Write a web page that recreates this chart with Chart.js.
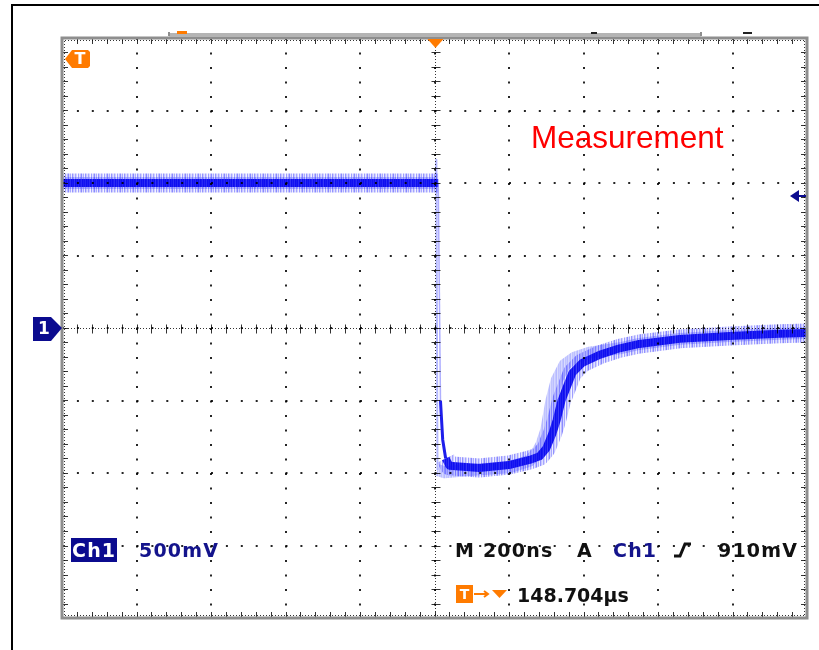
<!DOCTYPE html>
<html>
<head>
<meta charset="utf-8">
<script src="https://cdn.jsdelivr.net/npm/chart.js@4.4.1/dist/chart.umd.min.js"></script>
<style>
  html, body { margin: 0; padding: 0; background: #fff; overflow: hidden; }
  canvas { display: block; }
</style>
</head>
<body>
<canvas id="scope" width="819" height="650"></canvas>
<script>
// Channel 1 trace: time in ns relative to the trigger, amplitude in volts
const timeNs = [-1000, -500, 0, 10, 16, 22, 30, 40, 120, 200, 255, 282, 300, 317, 328, 341, 357, 370, 397, 443, 497, 550, 658, 792, 926, 1000];
const ch1Volts = [1.0, 1.0, 1.0, 1.0, -0.5, -0.77, -0.9, -0.95, -0.965, -0.945, -0.91, -0.885, -0.83, -0.725, -0.635, -0.5, -0.395, -0.31, -0.24, -0.185, -0.14, -0.11, -0.075, -0.055, -0.04, -0.035];

// Earlier acquisitions still shown by display persistence
const persistTimeNs = [-1000, 0, 3, 5, 8, 27, 94, 201, 255, 276, 287, 300, 314, 328, 349, 376, 416, 497, 550, 658, 792, 926, 1000];
const persistVolts = [1.0, 1.0, 1.0, 1.16, -0.98, -0.995, -0.98, -0.96, -0.915, -0.855, -0.805, -0.705, -0.5, -0.36, -0.255, -0.205, -0.17, -0.14, -0.11, -0.075, -0.055, -0.04, -0.035];

// Graticule: 10 x 200 ns, 8 x 500 mV
const timeRangeNs = [-1000, 1000];
const voltRange = [-2, 2];
const timePerDivNs = 200;
const voltPerDiv = 0.5;
const triggerLevelV = 0.91;

// Readout texts
const annotation = 'Measurement';
const channelName = 'Ch1';
const channelScale = '500mV';
const timebase = 'M 200ns';
const triggerSource = 'A';
const triggerLevel = '910mV';
const triggerDelay = '148.704\u00b5s';

const toPoints = (xs, ys) => xs.map((t, i) => ({ x: t, y: ys[i] }));

const ORANGE = '#ff7b00';
const NAVY = '#0b0b8f';

// Vertical-streak texture used to stroke the trace so it reads like a sampled, noisy signal
function streakPattern(rgb, alphas) {
  const cv = document.createElement('canvas');
  cv.width = alphas.length;
  cv.height = 1;
  const g = cv.getContext('2d');
  alphas.forEach((al, i) => {
    g.fillStyle = `rgba(${rgb},${al})`;
    g.fillRect(i, 0, 1, 1);
  });
  return g.createPattern(cv, 'repeat');
}
const coreStroke = streakPattern('14,14,240', [1, 0.82, 1, 0.92, 0.75, 1, 0.88, 0.97, 0.8, 1, 0.9]);
const haloStroke = streakPattern('40,40,255', [0.45, 0.12, 0.32, 0.55, 0.18, 0.4, 0.08, 0.5, 0.26, 0.15, 0.42, 0.22, 0.05]);
const persistStroke = streakPattern('150,155,255', [0.65, 0.4, 0.55, 0.7, 0.35, 0.6, 0.5]);

// thin, light stroke for the very fast edges
function steep(c) {
  const dx = Math.abs(c.p1.x - c.p0.x), dy = Math.abs(c.p1.y - c.p0.y);
  return dy > 15 && dy > 6 * dx;
}
function veryFast(c) {
  const dx = Math.abs(c.p1.x - c.p0.x), dy = Math.abs(c.p1.y - c.p0.y);
  return dy > 30 && dy > 40 * dx;
}

function drawPentagon(c, pts, fill) {
  c.beginPath();
  pts.forEach((p, i) => (i ? c.lineTo(p[0], p[1]) : c.moveTo(p[0], p[1])));
  c.closePath();
  c.fillStyle = fill;
  c.fill();
}

const screenPlugin = {
  id: 'scopeScreen',
  beforeDraw(chart) {
    const c = chart.ctx;
    c.save();
    c.fillStyle = '#fff';
    c.fillRect(0, 0, chart.width, chart.height);
    // outer frame
    c.fillStyle = '#000';
    c.fillRect(11, 4, chart.width - 11, 2);
    c.fillRect(11, 4, 2, chart.height - 4);
    c.restore();
  },
  afterDraw(chart) {
    const c = chart.ctx;
    const a = chart.chartArea;
    const xs = chart.scales.x, ys = chart.scales.y;
    const x0 = Math.round(xs.getPixelForValue(0)) + 0.5;
    const y0 = Math.round(ys.getPixelForValue(0)) + 0.5;
    const minorT = timePerDivNs / 5, minorV = voltPerDiv / 5;
    c.save();

    // centre crosshair, finely dotted
    c.strokeStyle = 'rgba(0,0,0,0.8)';
    c.lineWidth = 1;
    c.setLineDash([1, 2]);
    c.beginPath();
    c.moveTo(a.left, y0); c.lineTo(a.right, y0);
    c.moveTo(x0, a.top); c.lineTo(x0, a.bottom);
    c.stroke();
    // ruler dots just inside the frame
    c.beginPath();
    c.moveTo(a.left, a.top + 2.5); c.lineTo(a.right, a.top + 2.5);
    c.moveTo(a.left, a.bottom - 2.5); c.lineTo(a.right, a.bottom - 2.5);
    c.moveTo(a.left + 2.5, a.top); c.lineTo(a.left + 2.5, a.bottom);
    c.moveTo(a.right - 2.5, a.top); c.lineTo(a.right - 2.5, a.bottom);
    c.stroke();
    c.setLineDash([]);

    // minor division ticks on the crosshair and the frame
    c.beginPath();
    for (let t = timeRangeNs[0]; t <= timeRangeNs[1] + 1e-6; t += minorT) {
      const px = Math.round(xs.getPixelForValue(t)) + 0.5;
      c.moveTo(px, y0 - 4); c.lineTo(px, y0 + 5);
      c.moveTo(px, a.top); c.lineTo(px, a.top + 6);
      c.moveTo(px, a.bottom); c.lineTo(px, a.bottom - 6);
    }
    for (let v = voltRange[0]; v <= voltRange[1] + 1e-6; v += minorV) {
      const py = Math.round(ys.getPixelForValue(v)) + 0.5;
      c.moveTo(x0 - 4, py); c.lineTo(x0 + 5, py);
      c.moveTo(a.left, py); c.lineTo(a.left + 6, py);
      c.moveTo(a.right, py); c.lineTo(a.right - 6, py);
    }
    c.stroke();

    // graticule frame
    c.strokeStyle = '#8e8e8e';
    c.lineWidth = 3;
    c.strokeRect(a.left, a.top, a.right - a.left, a.bottom - a.top);

    // record view bar above the graticule
    c.fillStyle = '#b4b4b4';
    c.fillRect(169, a.top - 5, 532, 4);
    c.fillStyle = '#8e8e8e';
    c.fillRect(168, a.top - 6, 2, 4);
    c.fillRect(700, a.top - 6, 2, 4);
    c.fillStyle = ORANGE;
    c.fillRect(177, a.top - 7, 10, 3);
    c.fillStyle = '#222';
    c.fillRect(591, a.top - 6, 6, 2);
    c.fillRect(743, a.top - 6, 9, 2);

    // trigger position marker
    c.fillStyle = ORANGE;
    c.beginPath();
    c.moveTo(x0 - 8, a.top + 1); c.lineTo(x0 + 8, a.top + 1); c.lineTo(x0, a.top + 10);
    c.closePath(); c.fill();

    // "T" marker in the top left corner
    drawPentagon(c, [[65, 59], [72, 50], [88, 50], [90, 52], [90, 66], [88, 68], [72, 68]], ORANGE);
    c.fillStyle = '#fff';
    c.font = 'bold 16px "DejaVu Sans"';
    c.textAlign = 'center';
    c.textBaseline = 'middle';
    c.fillText('T', 80, 60);

    // channel 1 ground marker
    const gy = ys.getPixelForValue(0);
    drawPentagon(c, [[33, gy - 11], [51, gy - 11], [62, gy], [51, gy + 13], [33, gy + 13]], NAVY);
    c.fillStyle = '#fff';
    c.font = 'bold 17px "DejaVu Sans"';
    c.fillText('1', 44, gy + 2);

    // trigger level marker on the right
    const ty = Math.round(ys.getPixelForValue(triggerLevelV));
    c.fillStyle = NAVY;
    c.beginPath();
    c.moveTo(790, ty); c.lineTo(799, ty - 6); c.lineTo(799, ty + 6);
    c.closePath(); c.fill();
    c.fillRect(798, ty - 1, 8, 2);

    // annotation
    c.textAlign = 'left';
    c.textBaseline = 'alphabetic';
    c.fillStyle = '#ff0000';
    c.font = '31.5px "Liberation Sans"';
    c.fillText(annotation, 531, 148);

    // readout, first row
    c.font = 'bold 19px "DejaVu Sans"';
    c.letterSpacing = '1.2px';
    c.fillStyle = NAVY;
    c.fillRect(71, 538, 46, 24);
    c.fillStyle = '#fff';
    c.fillText(channelName, 72, 557);
    c.fillStyle = '#14148c';
    c.fillText(channelScale, 139, 557);
    c.fillStyle = '#111';
    c.fillText(timebase, 455, 557);
    c.fillText(triggerSource, 577, 557);
    c.fillStyle = '#14148c';
    c.fillText(channelName, 613, 557);
    c.fillStyle = '#111';
    c.fillText(triggerLevel, 718, 557);
    // rising slope symbol
    c.strokeStyle = '#111';
    c.lineWidth = 3;
    c.beginPath();
    c.moveTo(674, 556); c.lineTo(680, 556); c.lineTo(685, 544); c.lineTo(691, 544);
    c.stroke();

    // readout, second row: trigger delay
    c.fillStyle = ORANGE;
    c.fillRect(456, 585, 17, 18);
    c.fillStyle = '#fff';
    c.letterSpacing = '0px';
    c.font = 'bold 14px "DejaVu Sans"';
    c.textAlign = 'center';
    c.fillText('T', 464.5, 599);
    c.strokeStyle = ORANGE;
    c.lineWidth = 2;
    c.beginPath();
    c.moveTo(474, 594); c.lineTo(487, 594);
    c.moveTo(484, 591); c.lineTo(488, 594); c.lineTo(484, 597);
    c.stroke();
    c.fillStyle = ORANGE;
    c.beginPath();
    c.moveTo(492, 590); c.lineTo(507, 590); c.lineTo(499.5, 598);
    c.closePath(); c.fill();
    c.textAlign = 'left';
    c.fillStyle = '#111';
    c.font = 'bold 19px "DejaVu Sans"';
    c.letterSpacing = '0px';
    c.fillText(triggerDelay, 517, 602);
    c.restore();
  }
};

new Chart(document.getElementById('scope'), {
  type: 'line',
  data: {
    datasets: [
      {
        label: 'Ch1',
        data: toPoints(timeNs, ch1Volts),
        borderColor: coreStroke,
        borderWidth: 8,
        order: 0,
        segment: {
          borderWidth: c => (steep(c) ? (veryFast(c) ? 1.5 : 3) : undefined),
          borderColor: c => (veryFast(c) ? 'rgba(110,110,255,0.55)' : (steep(c) ? 'rgb(30,30,235)' : undefined))
        }
      },
      {
        label: 'Ch1 noise',
        data: toPoints(timeNs, ch1Volts),
        borderColor: haloStroke,
        borderWidth: 19,
        order: 1,
        segment: {
          borderColor: c => (steep(c) ? 'rgba(0,0,0,0)' : undefined)
        }
      },
      {
        label: 'Persistence',
        data: toPoints(persistTimeNs, persistVolts),
        borderColor: persistStroke,
        borderWidth: 12,
        order: 2,
        segment: {
          borderWidth: c => (steep(c) ? 2 : undefined),
          borderColor: c => (steep(c) ? 'rgba(150,155,255,0.7)' : undefined)
        }
      }
    ]
  },
  options: {
    responsive: false,
    animation: false,
    events: [],
    layout: { padding: { left: 62, top: 38, right: 12, bottom: 32 } },
    elements: { point: { radius: 0 }, line: { tension: 0, borderJoinStyle: 'round', borderCapStyle: 'butt' } },
    datasets: { line: { clip: 0 } },
    plugins: { legend: { display: false }, tooltip: { enabled: false } },
    scales: {
      x: {
        type: 'linear',
        min: timeRangeNs[0],
        max: timeRangeNs[1],
        ticks: { display: false, stepSize: timePerDivNs },
        grid: { color: 'rgba(0,0,0,0.85)', lineWidth: 2, drawTicks: false, z: 1 },
        border: { display: false, dash: [2, 12.5] }
      },
      y: {
        type: 'linear',
        min: voltRange[0],
        max: voltRange[1],
        ticks: { display: false, stepSize: voltPerDiv },
        grid: { color: 'rgba(0,0,0,0.85)', lineWidth: 2, drawTicks: false, z: 1 },
        border: { display: false, dash: [2, 12.9] }
      }
    }
  },
  plugins: [screenPlugin]
});
</script>
</body>
</html>
